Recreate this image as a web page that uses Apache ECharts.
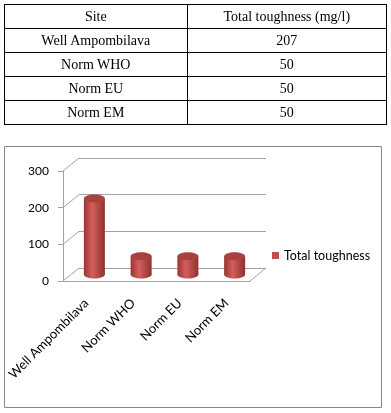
<!DOCTYPE html>
<html>
<head>
<meta charset="utf-8">
<title>Total toughness</title>
<script src="https://cdn.jsdelivr.net/npm/echarts@6/dist/echarts.min.js"></script>
<style>
	html, body { margin:0; padding:0; background:#fff; }
	#main { position:absolute; left:0; top:0; width:391px; height:413px; }
	#tbl { position:absolute; left:4px; top:4px; width:383px; border-collapse:collapse;
		font-family:"Liberation Serif","Times New Roman",serif; font-size:14px; color:#000; }
	#tbl td { border:1px solid #000; text-align:center; height:23px; padding:0; }
</style>
</head>
<body>
<div id="main"></div>
<table id="tbl"></table>
<script type="text/javascript">
	// data
	var tableHeader = ['Site', 'Total toughness (mg/l)'];
	var sites = ['Well Ampombilava', 'Norm WHO', 'Norm EU', 'Norm EM'];
	var toughness = [207, 50, 50, 50];
	var yTicks = [0, 100, 200, 300];
	var seriesName = 'Total toughness';

	// depth of the 3D box (back wall offset)
	var DX = 16, DY = -13;
	var gridLine = '#a3a3a3';
	var labelFont = 'Lato, "Open Sans", sans-serif';

	// table above the chart
	function tableInit(){
		var tbl = document.getElementById('tbl');
		var html = '<colgroup><col style="width:183px"><col style="width:200px"></colgroup>';
		html += '<tr><td>' + tableHeader[0] + '</td><td>' + tableHeader[1] + '</td></tr>';
		for (var i = 0; i < sites.length; i++){
			html += '<tr><td>' + sites[i] + '</td><td>' + toughness[i] + '</td></tr>';
		}
		tbl.innerHTML = html;
	}

	function renderWall(params, api){
		var cs = params.coordSys;
		var y = api.coord([0, api.value(0)])[1];
		var items = [{
			type:'line',
			shape:{x1:cs.x, y1:y, x2:cs.x + DX, y2:y + DY},
			style:{stroke:gridLine, lineWidth:1}
		}];
		if (api.value(0) === 0){
			items.push({
				type:'line',
				shape:{x1:cs.x + cs.width, y1:y, x2:cs.x + cs.width + DX, y2:y + DY},
				style:{stroke:gridLine, lineWidth:1}
			});
		}
		return {type:'group', children:items};
	}

	function renderCylinder(params, api){
		var base = api.coord([api.value(0), 0]);
		var top = api.coord([api.value(0), api.value(1)]);
		var cx = base[0] + DX / 2;
		var yb = base[1] + DY / 2;
		var yt = top[1] + DY / 2;
		var rx = 10.5, ry = 4;
		var body = new echarts.graphic.LinearGradient(0, 0, 1, 0, [
			{offset:0, color:'#9a3532'},
			{offset:0.4, color:'#d45f5c'},
			{offset:1, color:'#8f302d'}
		]);
		return {
			type:'group',
			children:[
				{type:'ellipse', shape:{cx:cx, cy:yb, rx:rx, ry:ry}, style:{fill:body}},
				{type:'rect', shape:{x:cx - rx, y:yt, width:rx * 2, height:yb - yt}, style:{fill:body}},
				{type:'ellipse', shape:{cx:cx, cy:yt, rx:rx, ry:ry}, style:{fill:'#a9423f'}}
			]
		};
	}

	function chartInit(){
		var myChart = echarts.init(document.getElementById('main'));
		var cylData = [];
		for (var i = 0; i < toughness.length; i++){
			cylData.push([i, toughness[i]]);
		}
		var option = {
			animation:false,
			graphic:[{
				type:'rect',
				shape:{x:4.5, y:146.5, width:377, height:261},
				style:{fill:'none', stroke:'#868686', lineWidth:1},
				z:-10
			}],
			legend:{
				data:[seriesName],
				left:272, top:249, padding:0,
				icon:'rect', itemWidth:7, itemHeight:7,
				textStyle:{fontFamily:labelFont, fontSize:12.5, color:'#000'}
			},
			grid:[
				{left:63, top:171, width:187, height:110},
				{left:63 + DX, top:171 + DY, width:187, height:110}
			],
			xAxis:[
				{
					gridIndex:0, type:'category', data:sites,
					axisLine:{lineStyle:{color:gridLine}},
					axisTick:{length:4, lineStyle:{color:gridLine}},
					axisLabel:{rotate:45, margin:20, color:'#000', fontFamily:labelFont, fontSize:13}
				},
				{gridIndex:1, type:'category', data:sites, show:false}
			],
			yAxis:[
				{
					gridIndex:0, type:'value', min:0, max:300, interval:100,
					axisLine:{show:true, lineStyle:{color:gridLine}},
					axisTick:{show:true, length:5, lineStyle:{color:gridLine}},
					splitLine:{show:false},
					axisLabel:{margin:14, color:'#000', fontFamily:labelFont, fontSize:12}
				},
				{
					gridIndex:1, type:'value', min:0, max:300, interval:100,
					axisLine:{show:false}, axisTick:{show:false}, axisLabel:{show:false},
					splitLine:{show:true, lineStyle:{color:gridLine, width:1}}
				}
			],
			series:[
				{
					type:'custom', xAxisIndex:0, yAxisIndex:0, silent:true,
					data:yTicks.map(function(v){ return [v]; }),
					encode:{y:0},
					renderItem:renderWall
				},
				{
					name:seriesName, type:'custom', xAxisIndex:0, yAxisIndex:0,
					itemStyle:{color:'#c0504d'},
					data:cylData,
					encode:{x:0, y:1},
					renderItem:renderCylinder
				}
			]
		};
		myChart.setOption(option);
	}

	tableInit();
	chartInit();
</script>
</body>
</html>
